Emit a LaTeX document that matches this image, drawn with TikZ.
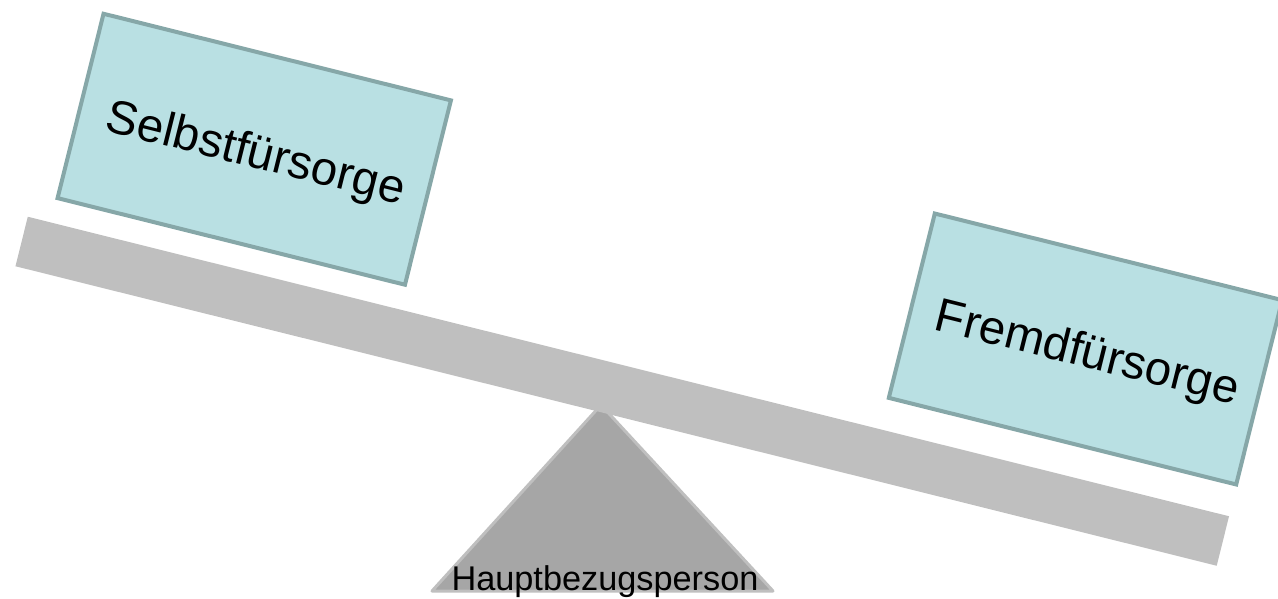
\documentclass[tikz,border=0pt]{standalone}
\usepackage{fontspec}
\setmainfont{Liberation Sans}
\definecolor{boxfill}{RGB}{185,224,227}
\definecolor{boxline}{RGB}{134,167,168}
\definecolor{beamgray}{RGB}{191,191,191}
\definecolor{pivotgray}{RGB}{166,166,166}
\begin{document}
\begin{tikzpicture}[x=1pt,y=-1pt,
  weight/.style={draw=boxline, fill=boxfill, line width=4pt, rectangle,
    rotate=-14, minimum width=358pt, minimum height=190pt, inner sep=0pt},
  weightlabel/.style={rotate=-14, inner sep=0pt,
    font=\fontsize{47.5}{52}\selectfont},
  beam/.style={fill=beamgray, rectangle, rotate=-14, minimum width=1238pt,
    minimum height=51pt, inner sep=0pt},
  pivot/.style={fill=pivotgray, draw=beamgray, line width=3pt, line join=round}]
\useasboundingbox (0,0) rectangle (1278,599);
\clip (0,0) rectangle (1278,599);
% fulcrum
\draw[pivot] (601,405) coordinate (apex) -- (432,591) coordinate (bl)
  -- (773,591) coordinate (br) -- cycle;
% tilted beam
\node[beam] (beam) at (622.25,391.25) {};
% the two weights
\node[weight] (self) at (254.25,149.25) {};
\node[weightlabel] (selflabel) at (255.5,155.5) {Selbstfürsorge};
\node[weight] (other) at (1085.5,349) {};
\node[weightlabel] (otherlabel) at (1087,355) {Fremdfürsorge};
% fulcrum label
\node[anchor=base, font=\fontsize{34.3}{40}\selectfont, inner sep=0pt]
  (person) at (605,590) {Hauptbezugsperson};
\end{tikzpicture}
\end{document}
